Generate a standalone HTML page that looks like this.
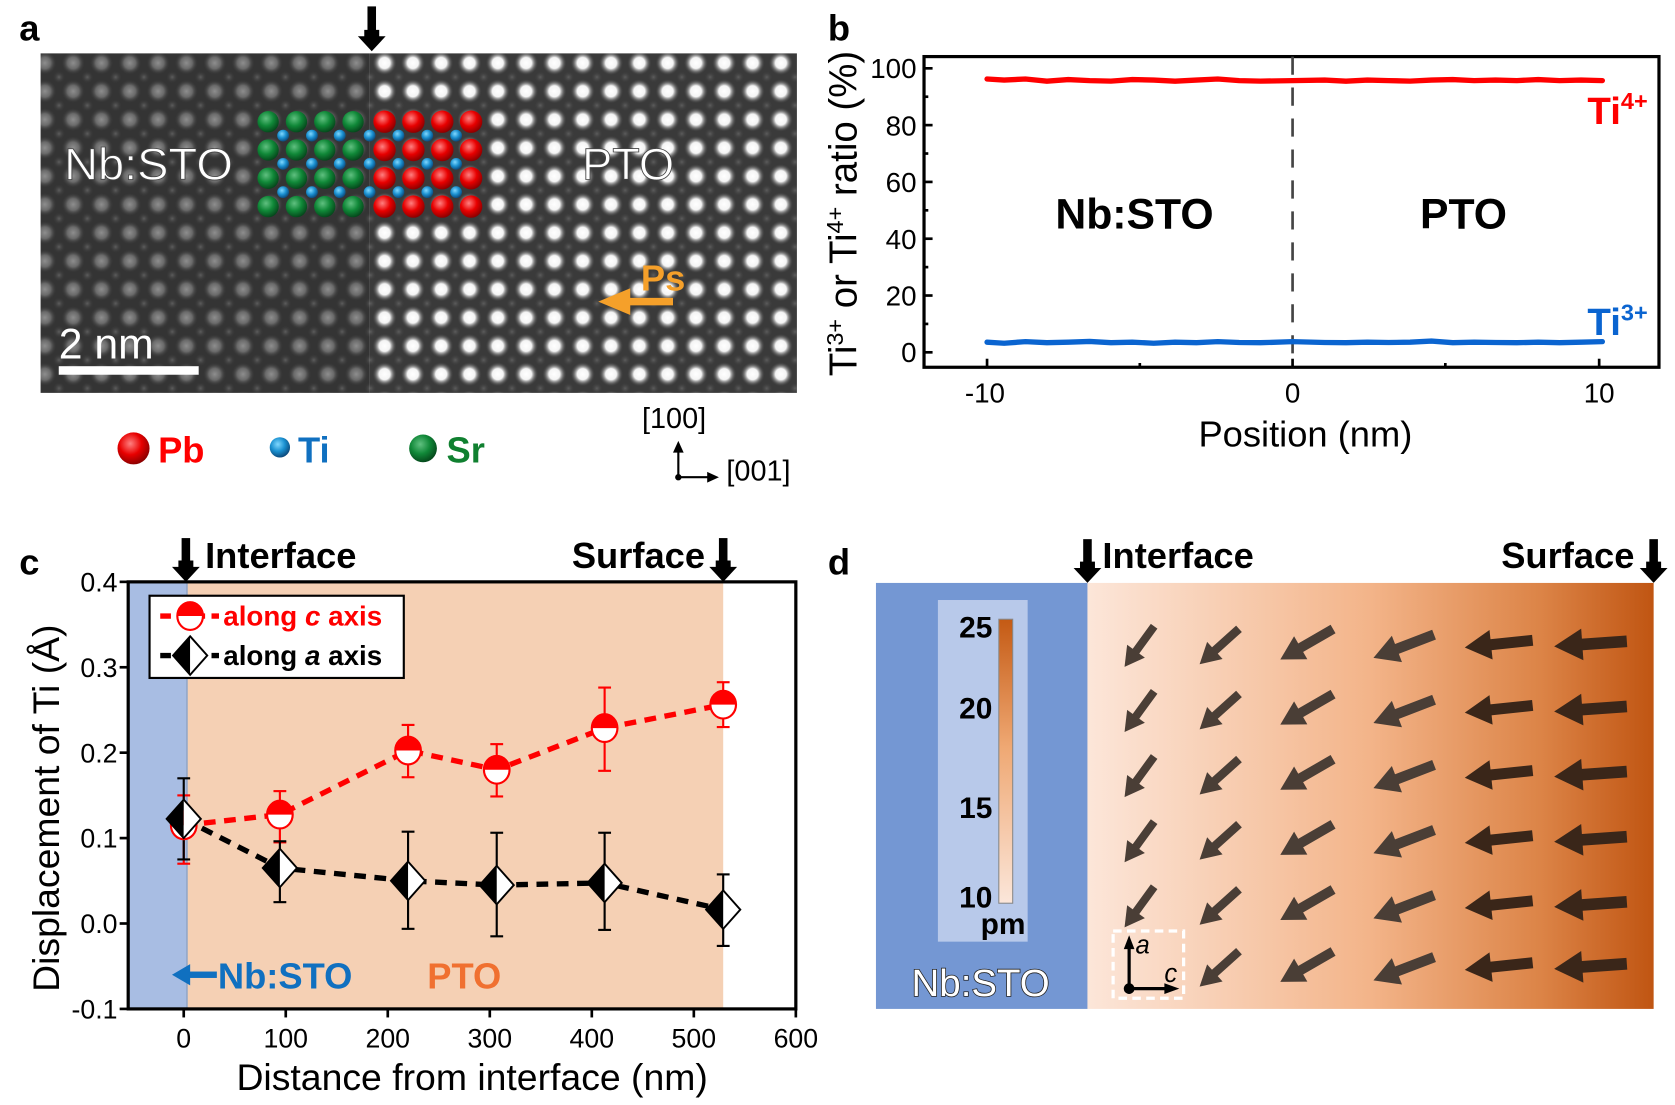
<!DOCTYPE html>
<html><head><meta charset="utf-8"><style>
html,body{margin:0;padding:0;background:#fff;}
svg{display:block;}
text{font-family:"Liberation Sans Narrow","Liberation Sans",Arial,sans-serif;}
.b{font-family:"Liberation Sans",Arial,sans-serif;font-weight:bold;}
</style></head><body>
<svg width="1675" height="1105" viewBox="0 0 1568 1035" preserveAspectRatio="none" xmlns="http://www.w3.org/2000/svg">
<defs>
<radialGradient id="gw"><stop offset="0" stop-color="#fff"/><stop offset="0.45" stop-color="#f4f4f4"/><stop offset="1" stop-color="#3c3c3c" stop-opacity="0"/></radialGradient>
<radialGradient id="gg"><stop offset="0" stop-color="#8e8e8e"/><stop offset="0.5" stop-color="#6a6a6a"/><stop offset="1" stop-color="#363636" stop-opacity="0"/></radialGradient>
<radialGradient id="gs"><stop offset="0" stop-color="#5e5e5e"/><stop offset="1" stop-color="#363636" stop-opacity="0"/></radialGradient>
<pattern id="pL" patternUnits="userSpaceOnUse" x="346.75" y="45.75" width="26.5" height="26.5">
<rect width="26.5" height="26.5" fill="#343434"/>
<circle cx="13.25" cy="13.25" r="11" fill="url(#gg)"/>
<circle cx="0" cy="0" r="6" fill="url(#gs)"/><circle cx="26.5" cy="0" r="6" fill="url(#gs)"/><circle cx="0" cy="26.5" r="6" fill="url(#gs)"/><circle cx="26.5" cy="26.5" r="6" fill="url(#gs)"/>
</pattern>
<pattern id="pR" patternUnits="userSpaceOnUse" x="346.75" y="45.75" width="26.5" height="26.5">
<rect width="26.5" height="26.5" fill="#3a3a3a"/>
<circle cx="13.25" cy="13.25" r="11.5" fill="url(#gw)"/>
<circle cx="0" cy="0" r="6" fill="url(#gs)"/><circle cx="26.5" cy="0" r="6" fill="url(#gs)"/><circle cx="0" cy="26.5" r="6" fill="url(#gs)"/><circle cx="26.5" cy="26.5" r="6" fill="url(#gs)"/>
</pattern>
<radialGradient id="bR" cx="0.4" cy="0.35" r="0.7"><stop offset="0" stop-color="#ff8080"/><stop offset="0.5" stop-color="#e80000"/><stop offset="1" stop-color="#800000"/></radialGradient>
<radialGradient id="bG" cx="0.4" cy="0.35" r="0.7"><stop offset="0" stop-color="#60c080"/><stop offset="0.5" stop-color="#108838"/><stop offset="1" stop-color="#044018"/></radialGradient>
<radialGradient id="bB" cx="0.4" cy="0.35" r="0.7"><stop offset="0" stop-color="#80d8ff"/><stop offset="0.5" stop-color="#1a90d0"/><stop offset="1" stop-color="#0a4070"/></radialGradient>
<linearGradient id="gd" x1="0" x2="1" y1="0" y2="0"><stop offset="0" stop-color="#fce6d9"/><stop offset="0.5" stop-color="#f3b489"/><stop offset="0.8" stop-color="#dc8447"/><stop offset="1" stop-color="#c05512"/></linearGradient>
<linearGradient id="gc" x1="0" x2="0" y1="1" y2="0"><stop offset="0" stop-color="#fbe6da"/><stop offset="0.55" stop-color="#efa873"/><stop offset="1" stop-color="#c45a14"/></linearGradient>
<g id="arr"><rect x="-14" y="-5" width="44" height="10"/><polygon points="-32,0 -8,-13.5 -8,13.5"/></g>
<g id="hc"><ellipse cx="0" cy="0" rx="12" ry="13" fill="#fff" stroke="#f00" stroke-width="2"/><path d="M-12,0 A12,13 0 0 1 12,0 Z" fill="#f00"/></g>
<g id="dm"><polygon points="0,-18 -16,0 0,18" fill="#000"/><polygon points="0,-18 16,0 0,18" fill="#fff"/><polygon points="0,-18 16,0 0,18 -16,0" fill="none" stroke="#000" stroke-width="1.8"/></g>
</defs>

<!-- Panel a -->
<text x="18" y="38" class="b" font-size="34">a</text>
<rect x="38" y="50" width="308" height="318" fill="url(#pL)"/>
<rect x="346" y="50" width="400" height="318" fill="url(#pR)"/>
<polygon points="341,28 355,28 355,34 361,34 348,48 335,34 341,34" fill="#000"/>
<rect x="344" y="6" width="8" height="24" fill="#000"/>
<g>
<g fill="url(#bG)">
<circle cx="251" cy="114" r="10"/><circle cx="277.5" cy="114" r="10"/><circle cx="304" cy="114" r="10"/><circle cx="330.5" cy="114" r="10"/>
<circle cx="251" cy="140.5" r="10"/><circle cx="277.5" cy="140.5" r="10"/><circle cx="304" cy="140.5" r="10"/><circle cx="330.5" cy="140.5" r="10"/>
<circle cx="251" cy="167" r="10"/><circle cx="277.5" cy="167" r="10"/><circle cx="304" cy="167" r="10"/><circle cx="330.5" cy="167" r="10"/>
<circle cx="251" cy="193.5" r="10"/><circle cx="277.5" cy="193.5" r="10"/><circle cx="304" cy="193.5" r="10"/><circle cx="330.5" cy="193.5" r="10"/>
</g>
<g fill="url(#bR)">
<circle cx="360" cy="114" r="10.5"/><circle cx="387" cy="114" r="10.5"/><circle cx="414" cy="114" r="10.5"/><circle cx="441" cy="114" r="10.5"/>
<circle cx="360" cy="140.5" r="10.5"/><circle cx="387" cy="140.5" r="10.5"/><circle cx="414" cy="140.5" r="10.5"/><circle cx="441" cy="140.5" r="10.5"/>
<circle cx="360" cy="167" r="10.5"/><circle cx="387" cy="167" r="10.5"/><circle cx="414" cy="167" r="10.5"/><circle cx="441" cy="167" r="10.5"/>
<circle cx="360" cy="193.5" r="10.5"/><circle cx="387" cy="193.5" r="10.5"/><circle cx="414" cy="193.5" r="10.5"/><circle cx="441" cy="193.5" r="10.5"/>
</g>
<g fill="url(#bB)">
<circle cx="265" cy="127" r="5.5"/><circle cx="292" cy="127" r="5.5"/><circle cx="318" cy="127" r="5.5"/><circle cx="346" cy="127" r="5.5"/><circle cx="373" cy="127" r="5.5"/><circle cx="400" cy="127" r="5.5"/><circle cx="427" cy="127" r="5.5"/>
<circle cx="265" cy="153.5" r="5.5"/><circle cx="292" cy="153.5" r="5.5"/><circle cx="318" cy="153.5" r="5.5"/><circle cx="346" cy="153.5" r="5.5"/><circle cx="373" cy="153.5" r="5.5"/><circle cx="400" cy="153.5" r="5.5"/><circle cx="427" cy="153.5" r="5.5"/>
<circle cx="265" cy="180" r="5.5"/><circle cx="292" cy="180" r="5.5"/><circle cx="318" cy="180" r="5.5"/><circle cx="346" cy="180" r="5.5"/><circle cx="373" cy="180" r="5.5"/><circle cx="400" cy="180" r="5.5"/><circle cx="427" cy="180" r="5.5"/>
</g>
</g>
<text x="60" y="168" font-size="42" fill="#fff" stroke="#444" stroke-width="0.8" textLength="158" lengthAdjust="spacingAndGlyphs" style="font-family:'Liberation Sans',sans-serif">Nb:STO</text>
<text x="545" y="168" font-size="42" fill="#fff" stroke="#444" stroke-width="0.8" textLength="86" lengthAdjust="spacingAndGlyphs" style="font-family:'Liberation Sans',sans-serif">PTO</text>
<text x="600" y="272" font-size="34" fill="#f5a02a" class="b">Ps</text>
<rect x="585" y="279" width="45" height="7" fill="#f5a02a"/>
<polygon points="560,282.5 590,270 590,295" fill="#f5a02a"/>
<text x="55" y="336" font-size="40" fill="#fff" style="font-family:'Liberation Sans',sans-serif">2 nm</text>
<rect x="55" y="343" width="131" height="8" fill="#fff"/>
<circle cx="125" cy="420" r="15" fill="url(#bR)"/>
<text x="148" y="433" font-size="34" fill="#f00" class="b">Pb</text>
<circle cx="262" cy="419" r="9.5" fill="url(#bB)"/>
<text x="279" y="433" font-size="34" fill="#1070c0" class="b">Ti</text>
<circle cx="396" cy="420" r="13" fill="url(#bG)"/>
<text x="418" y="433" font-size="34" fill="#108030" class="b">Sr</text>
<text x="601" y="401" font-size="27">[100]</text>
<line x1="635" y1="447" x2="635" y2="421" stroke="#000" stroke-width="2"/>
<polygon points="635,413 630,424 640,424"/>
<line x1="635" y1="447" x2="664" y2="447" stroke="#000" stroke-width="2"/>
<polygon points="673,447 662,442 662,452"/>
<circle cx="635" cy="447" r="3"/>
<text x="680" y="450" font-size="27">[001]</text>

<!-- Panel b -->
<text x="775" y="38" class="b" font-size="34">b</text>
<rect x="865" y="53" width="688" height="291" fill="none" stroke="#000" stroke-width="3"/>
<line x1="1210" y1="53" x2="1210" y2="344" stroke="#444" stroke-width="2.5" stroke-dasharray="17,12"/>
<g stroke="#000" stroke-width="2.5">
<line x1="865" y1="330" x2="873" y2="330"/><line x1="865" y1="276.8" x2="873" y2="276.8"/><line x1="865" y1="223.6" x2="873" y2="223.6"/><line x1="865" y1="170.4" x2="873" y2="170.4"/><line x1="865" y1="117.2" x2="873" y2="117.2"/><line x1="865" y1="64" x2="873" y2="64"/>
<line x1="865" y1="303.4" x2="869" y2="303.4"/><line x1="865" y1="250.2" x2="869" y2="250.2"/><line x1="865" y1="197" x2="869" y2="197"/><line x1="865" y1="143.8" x2="869" y2="143.8"/><line x1="865" y1="90.6" x2="869" y2="90.6"/>
<line x1="924" y1="344" x2="924" y2="336"/><line x1="1210" y1="344" x2="1210" y2="336"/><line x1="1497" y1="344" x2="1497" y2="336"/>
<line x1="1067" y1="344" x2="1067" y2="340"/><line x1="1353" y1="344" x2="1353" y2="340"/>
</g>
<g font-size="26" text-anchor="end">
<text x="858" y="339">0</text><text x="858" y="286">20</text><text x="858" y="233">40</text><text x="858" y="180">60</text><text x="858" y="127">80</text><text x="858" y="73">100</text>
</g>
<g font-size="26" text-anchor="middle">
<text x="922" y="377">-10</text><text x="1210" y="377">0</text><text x="1497" y="377">10</text>
</g>
<polyline fill="none" stroke="#f00" stroke-width="5" stroke-linecap="round" points="924,74 940,75 960,74 980,76 1000,74.5 1020,75.5 1040,76 1060,74.5 1080,75 1100,76 1120,75 1140,74 1160,75.5 1180,76 1210,75.5 1240,75 1260,76 1280,75 1300,75.5 1320,76 1340,75 1360,74.5 1380,75.5 1400,75 1420,75.5 1440,74.5 1460,75.5 1480,75 1500,75.5"/>
<polyline fill="none" stroke="#0a64d0" stroke-width="5" stroke-linecap="round" points="924,320.5 940,321.5 960,320 980,321 1000,320.5 1020,319.8 1040,321 1060,320.5 1080,321.5 1100,320.5 1120,321 1140,320 1160,320.8 1180,321 1210,320 1240,320.8 1260,321 1280,320.5 1300,320.8 1320,320.5 1340,319.5 1360,321 1380,320.5 1400,320.8 1420,321 1440,320.5 1460,321 1480,320.5 1500,320"/>
<text x="1062" y="214" font-size="40" class="b" text-anchor="middle">Nb:STO</text>
<text x="1370" y="214" font-size="40" class="b" text-anchor="middle">PTO</text>
<text x="1486" y="116" font-size="36" class="b" fill="#f00">Ti<tspan font-size="22" dy="-14">4+</tspan></text>
<text x="1486" y="314" font-size="36" class="b" fill="#0a64d0">Ti<tspan font-size="22" dy="-14">3+</tspan></text>
<text x="1222" y="418" font-size="34" text-anchor="middle">Position (nm)</text>
<text transform="translate(802,200) rotate(-90)" font-size="36" text-anchor="middle" style="font-family:'Liberation Sans',sans-serif">Ti<tspan font-size="22" dy="-13">3+</tspan><tspan dy="13"> or Ti</tspan><tspan font-size="22" dy="-13">4+</tspan><tspan dy="13"> ratio (%)</tspan></text>

<!-- Panel c -->
<text x="18" y="538" class="b" font-size="34">c</text>
<rect x="120" y="545" width="55" height="400" fill="#a8bde3"/>
<rect x="175" y="545" width="502" height="400" fill="#f5d0b4"/>
<line x1="175" y1="545" x2="175" y2="945" stroke="#93a8c8" stroke-width="1.5"/>
<rect x="120" y="545" width="625" height="400" fill="none" stroke="#000" stroke-width="3"/>
<g stroke="#000" stroke-width="2.5">
<line x1="112" y1="545" x2="120" y2="545"/><line x1="112" y1="625" x2="120" y2="625"/><line x1="112" y1="705" x2="120" y2="705"/><line x1="112" y1="785" x2="120" y2="785"/><line x1="112" y1="865" x2="120" y2="865"/><line x1="112" y1="945" x2="120" y2="945"/>
<line x1="172" y1="945" x2="172" y2="953"/><line x1="267.5" y1="945" x2="267.5" y2="953"/><line x1="363" y1="945" x2="363" y2="953"/><line x1="458.5" y1="945" x2="458.5" y2="953"/><line x1="554" y1="945" x2="554" y2="953"/><line x1="649.5" y1="945" x2="649.5" y2="953"/><line x1="745" y1="945" x2="745" y2="953"/>
</g>
<g font-size="25" text-anchor="end">
<text x="110" y="554">0.4</text><text x="110" y="634">0.3</text><text x="110" y="714">0.2</text><text x="110" y="794">0.1</text><text x="110" y="874">0.0</text><text x="110" y="954">-0.1</text>
</g>
<g font-size="25" text-anchor="middle">
<text x="172" y="981">0</text><text x="267.5" y="981">100</text><text x="363" y="981">200</text><text x="458.5" y="981">300</text><text x="554" y="981">400</text><text x="649.5" y="981">500</text><text x="745" y="981">600</text>
</g>
<text x="442" y="1021" font-size="35" text-anchor="middle">Distance from interface (nm)</text>
<text transform="translate(55,757) rotate(-90)" font-size="35" text-anchor="middle" style="font-family:'Liberation Sans',sans-serif">Displacement of Ti (Å)</text>
<polygon points="167,525 181,525 181,531 187,531 174,545 161,531 167,531"/><rect x="170" y="504" width="8" height="23"/>
<text x="192" y="532" font-size="34" class="b">Interface</text>
<polygon points="670,525 684,525 684,531 690,531 677,545 664,531 670,531"/><rect x="673" y="504" width="8" height="23"/>
<text x="660" y="532" font-size="34" class="b" text-anchor="end">Surface</text>
<g stroke="#f00" stroke-width="2">
<line x1="172" y1="745" x2="172" y2="809"/><line x1="166" y1="745" x2="178" y2="745"/><line x1="166" y1="809" x2="178" y2="809"/>
<line x1="262" y1="741" x2="262" y2="789"/><line x1="256" y1="741" x2="268" y2="741"/><line x1="256" y1="789" x2="268" y2="789"/>
<line x1="382" y1="679" x2="382" y2="728"/><line x1="376" y1="679" x2="388" y2="679"/><line x1="376" y1="728" x2="388" y2="728"/>
<line x1="465" y1="697" x2="465" y2="746"/><line x1="459" y1="697" x2="471" y2="697"/><line x1="459" y1="746" x2="471" y2="746"/>
<line x1="566" y1="644" x2="566" y2="722"/><line x1="560" y1="644" x2="572" y2="644"/><line x1="560" y1="722" x2="572" y2="722"/>
<line x1="677" y1="639" x2="677" y2="681"/><line x1="671" y1="639" x2="683" y2="639"/><line x1="671" y1="681" x2="683" y2="681"/>
</g>
<g stroke="#000" stroke-width="2">
<line x1="172" y1="729" x2="172" y2="805"/><line x1="166" y1="729" x2="178" y2="729"/><line x1="166" y1="805" x2="178" y2="805"/>
<line x1="262" y1="788" x2="262" y2="845"/><line x1="256" y1="788" x2="268" y2="788"/><line x1="256" y1="845" x2="268" y2="845"/>
<line x1="382" y1="779" x2="382" y2="870"/><line x1="376" y1="779" x2="388" y2="779"/><line x1="376" y1="870" x2="388" y2="870"/>
<line x1="465" y1="780" x2="465" y2="877"/><line x1="459" y1="780" x2="471" y2="780"/><line x1="459" y1="877" x2="471" y2="877"/>
<line x1="566" y1="780" x2="566" y2="871"/><line x1="560" y1="780" x2="572" y2="780"/><line x1="560" y1="871" x2="572" y2="871"/>
<line x1="677" y1="819" x2="677" y2="886"/><line x1="671" y1="819" x2="683" y2="819"/><line x1="671" y1="886" x2="683" y2="886"/>
</g>
<polyline fill="none" stroke="#f00" stroke-width="5" stroke-dasharray="11,8" points="172,773 262,763 382,703 465,721 566,682 677,660"/>
<polyline fill="none" stroke="#000" stroke-width="5" stroke-dasharray="11,8" points="172,767 262,813 382,825 465,829 566,827 677,852"/>
<use href="#hc" x="172" y="773"/><use href="#hc" x="262" y="763"/><use href="#hc" x="382" y="703"/><use href="#hc" x="465" y="721"/><use href="#hc" x="566" y="682"/><use href="#hc" x="677" y="660"/>
<use href="#dm" x="172" y="767"/><use href="#dm" x="262" y="813"/><use href="#dm" x="382" y="825"/><use href="#dm" x="465" y="829"/><use href="#dm" x="566" y="827"/><use href="#dm" x="677" y="852"/>
<rect x="140" y="558" width="238" height="77" fill="#fff" stroke="#000" stroke-width="2"/>
<line x1="150" y1="577" x2="205" y2="577" stroke="#f00" stroke-width="5" stroke-dasharray="10,6"/>
<use href="#hc" x="178" y="577"/>
<text x="209" y="586" font-size="26" class="b" fill="#f00">along <tspan font-style="italic">c</tspan> axis</text>
<line x1="150" y1="614" x2="205" y2="614" stroke="#000" stroke-width="5" stroke-dasharray="10,6"/>
<use href="#dm" x="178" y="614"/>
<text x="209" y="623" font-size="26" class="b">along <tspan font-style="italic">a</tspan> axis</text>
<polygon points="161,913 178,903 178,923" fill="#1070c0"/><rect x="175" y="910" width="28" height="6" fill="#1070c0"/>
<text x="204" y="926" font-size="34" class="b" fill="#1070c0">Nb:STO</text>
<text x="400" y="926" font-size="34" class="b" fill="#f07030">PTO</text>

<!-- Panel d -->
<text x="775" y="538" class="b" font-size="34">d</text>
<rect x="820" y="546" width="198" height="399" fill="#7497d3"/>
<rect x="1018" y="546" width="530" height="399" fill="url(#gd)"/>
<rect x="878" y="562" width="84" height="320" fill="#b8c9ea"/>
<rect x="935" y="580" width="13" height="266" fill="url(#gc)" stroke="#888" stroke-width="1"/>
<g font-size="28" class="b" text-anchor="end">
<text x="929" y="597">25</text><text x="929" y="673">20</text><text x="929" y="766">15</text><text x="929" y="850">10</text>
</g>
<text x="960" y="875" font-size="28" class="b" text-anchor="end">pm</text>
<text x="918" y="933" font-size="36" fill="#fff" stroke="#222" stroke-width="1.5" paint-order="stroke" text-anchor="middle" style="font-family:'Liberation Sans',sans-serif">Nb:STO</text>
<polygon points="1011,526 1025,526 1025,532 1031,532 1018,546 1005,532 1011,532"/><rect x="1014" y="505" width="8" height="23"/>
<text x="1032" y="532" font-size="34" class="b">Interface</text>
<polygon points="1541,526 1555,526 1555,532 1561,532 1548,546 1535,532 1541,532"/><rect x="1544" y="505" width="8" height="23"/>
<text x="1530" y="532" font-size="34" class="b" text-anchor="end">Surface</text>
<g fill="#4a3e36">
<use href="#arr" transform="translate(1067,605) rotate(-54) scale(0.76)"/>
<use href="#arr" transform="translate(1067,666) rotate(-54) scale(0.76)"/>
<use href="#arr" transform="translate(1067,727) rotate(-54) scale(0.76)"/>
<use href="#arr" transform="translate(1067,788) rotate(-54) scale(0.76)"/>
<use href="#arr" transform="translate(1067,849) rotate(-54) scale(0.76)"/>
<use href="#arr" transform="translate(1142,605) rotate(-42) scale(0.8)"/>
<use href="#arr" transform="translate(1142,666) rotate(-42) scale(0.8)"/>
<use href="#arr" transform="translate(1142,727) rotate(-42) scale(0.8)"/>
<use href="#arr" transform="translate(1142,788) rotate(-42) scale(0.8)"/>
<use href="#arr" transform="translate(1142,849) rotate(-42) scale(0.8)"/>
<use href="#arr" transform="translate(1142,907) rotate(-42) scale(0.8)"/>
<use href="#arr" transform="translate(1224,603) rotate(-30) scale(0.92)"/>
<use href="#arr" transform="translate(1224,664) rotate(-30) scale(0.92)"/>
<use href="#arr" transform="translate(1224,725) rotate(-30) scale(0.92)"/>
<use href="#arr" transform="translate(1224,786) rotate(-30) scale(0.92)"/>
<use href="#arr" transform="translate(1224,847) rotate(-30) scale(0.92)"/>
<use href="#arr" transform="translate(1224,905) rotate(-30) scale(0.92)"/>
<use href="#arr" transform="translate(1315,605) rotate(-21) scale(0.98)"/>
<use href="#arr" transform="translate(1315,666) rotate(-21) scale(0.98)"/>
<use href="#arr" transform="translate(1315,727) rotate(-21) scale(0.98)"/>
<use href="#arr" transform="translate(1315,788) rotate(-21) scale(0.98)"/>
<use href="#arr" transform="translate(1315,849) rotate(-21) scale(0.98)"/>
<use href="#arr" transform="translate(1315,907) rotate(-21) scale(0.98)"/>
</g>
<g fill="#3a2619">
<use href="#arr" transform="translate(1404,603) rotate(-6) scale(1.03)"/>
<use href="#arr" transform="translate(1404,664) rotate(-6) scale(1.03)"/>
<use href="#arr" transform="translate(1404,725) rotate(-6) scale(1.03)"/>
<use href="#arr" transform="translate(1404,786) rotate(-6) scale(1.03)"/>
<use href="#arr" transform="translate(1404,847) rotate(-6) scale(1.03)"/>
<use href="#arr" transform="translate(1404,905) rotate(-6) scale(1.03)"/>
<use href="#arr" transform="translate(1490,603) rotate(-4) scale(1.1)"/>
<use href="#arr" transform="translate(1490,664) rotate(-4) scale(1.1)"/>
<use href="#arr" transform="translate(1490,725) rotate(-4) scale(1.1)"/>
<use href="#arr" transform="translate(1490,786) rotate(-4) scale(1.1)"/>
<use href="#arr" transform="translate(1490,847) rotate(-4) scale(1.1)"/>
<use href="#arr" transform="translate(1490,905) rotate(-4) scale(1.1)"/>
</g>
<rect x="1042" y="872" width="66" height="63" fill="none" stroke="#fff" stroke-width="3" stroke-dasharray="8,5"/>
<line x1="1057" y1="926" x2="1057" y2="886" stroke="#000" stroke-width="3"/>
<polygon points="1057,876 1052,889 1062,889"/>
<line x1="1057" y1="926" x2="1092" y2="926" stroke="#000" stroke-width="3"/>
<polygon points="1104,926 1090,921 1090,931"/>
<circle cx="1057" cy="926" r="5"/>
<text x="1063" y="893" font-size="24" font-style="italic" style="font-family:'Liberation Sans',sans-serif">a</text>
<text x="1090" y="920" font-size="24" font-style="italic" style="font-family:'Liberation Sans',sans-serif">c</text>
</svg>
</body></html>
